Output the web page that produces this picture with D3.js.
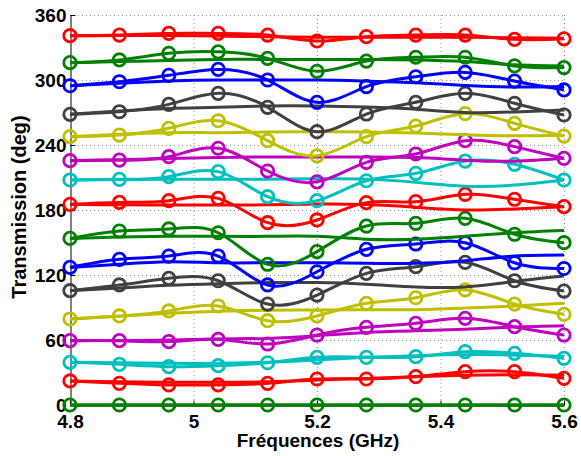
<!DOCTYPE html>
<html><head><meta charset="utf-8">
<script src="https://cdn.jsdelivr.net/npm/d3@7"></script>
<style>body{margin:0;background:#fff}svg{display:block}text{font-family:"Liberation Sans",Arial,sans-serif;font-weight:bold}</style>
</head><body>
<svg id="c" width="581" height="456"></svg>
<script>
const freqs = [4.8,4.88,4.96,5.04,5.12,5.2,5.28,5.36,5.44,5.52,5.6];
const xTicks = [4.8,5,5.2,5.4,5.6];
const xTickLabels = ["4.8","5","5.2","5.4","5.6"];
const yTicks = [0,60,120,180,240,300,360];
const yTickLabels = ["0","60","120","180","240","300","360"];
const seriesColors = ["#008000","#ff0000","#00bfbf","#bf00bf","#bfbf00","#404040","#0000ff",
                      "#008000","#ff0000","#00bfbf","#bf00bf","#bfbf00","#404040","#0000ff",
                      "#008000","#ff0000"];
// measured curves (with circle markers)
const measured = [
 [0,0,0,0,0,0,0,0,0,0,0],
 [22.2,20,18.5,18.5,20,24,24,26.2,30.8,30.8,24.6],
 [39.4,37.5,35.4,36.3,39,44,44,44.6,49.2,47.7,43.1],
 [59.4,59.4,58.5,60.6,56.3,64.6,71.7,75.4,80,72.3,64.6],
 [79.4,82.2,86.8,91.4,77.8,82.2,93.9,99,106.2,93.2,83.7],
 [105.5,110.8,116.9,114.7,93.2,101.5,121.5,127.7,131.7,114.7,105.2],
 [127,134.5,137.5,137.5,110.8,123,143.7,148.6,149.8,131.3,126],
 [153.8,160.6,162.5,159,129.9,141.6,165.2,167.7,172.3,157.6,149.8],
 [185.2,187,188.6,190.7,168.3,170.8,186.8,187.7,194.5,189.9,183.1],
 [207.7,208.3,210.8,215.4,192.3,188.6,207,213.8,225.2,222.2,207.7],
 [225.5,226,229.2,237,216,206,224,231.7,244,238.5,227.7],
 [247.7,249.2,255.4,262.4,244,230,247.7,257.5,269,260,248.3],
 [268.3,270.7,277.5,287.7,274.8,252.3,268.6,279.4,287.7,278.5,267.7],
 [294.7,298.4,304.3,309.8,300,279.4,293.8,303,307,299,290.8],
 [316,318.5,324.6,326,320,308,317.5,321,321,313,311.5],
 [340.9,341.5,343,343,341.5,336,340,341.5,341.5,337.5,338]
];
// simulated curves (no markers)
const simulated = [
 [0,0,0,0,0,0,0,0,0,0,0],
 [22.2,21.5,21,21,21.5,23,24.5,26,27.5,28,27.5],
 [39.4,39,38.5,38.5,39.5,41.5,44,45.5,46.5,46,45],
 [59.4,59.5,60,61,61.5,64,67,68.5,70,72,73.2],
 [79.4,82,84.6,86.5,87.5,87.7,88,88,89.5,91.4,93.9],
 [105.5,108,110.5,112,113,113,111.5,109,109,114,119],
 [127,130,132.3,131.3,131.3,131.3,130.8,130.8,133.2,137.5,138.5],
 [153.8,155,155.7,155.7,155.7,155.7,153,153,155.7,159,161],
 [185.2,184.8,184.6,184.6,184.8,185.5,185,182.5,180,181,183.1],
 [207.7,208,208.3,208.5,208.5,208.8,208.5,205.5,202,203,207.7],
 [225.5,226.5,227.5,228.5,229,229,229,228.5,226,225,227.7],
 [247.7,250,251.4,251.4,252,252.3,252,251,249.5,248.5,249],
 [268.3,271.5,273.8,274.8,276,276,275,273,270,270.5,272.3],
 [294.7,297,299,300,300,300,299,297.5,295,293.5,294],
 [316,317,318,319,319,319,319,318.5,317,314,313],
 [340.9,341,341,340.5,340,339.5,339.5,339.5,339.5,339,338.5]
];
const xLabel = "Fréquences (GHz)";
const yLabel = "Transmission (deg)";

const svg = d3.select("#c");
const L=70, R=564, T=15, B=405;
const x = d3.scaleLinear().domain([4.8,5.6]).range([L,R]);
const y = d3.scaleLinear().domain([0,360]).range([B,T]);

// grid
const grid = svg.append("g").attr("stroke","#8c8c8c").attr("stroke-width",1).attr("stroke-dasharray","1,3");
xTicks.filter(v=>v>4.8).forEach(v=>grid.append("line").attr("x1",x(v)+0.5).attr("x2",x(v)+0.5).attr("y1",T).attr("y2",B));
yTicks.filter(v=>v>0).forEach(v=>grid.append("line").attr("x1",L).attr("x2",R).attr("y1",y(v)+0.5).attr("y2",y(v)+0.5));

// axes
const xAxis = d3.axisBottom(x).tickValues(xTicks).tickFormat((d,i)=>xTickLabels[i]).tickSizeInner(-5).tickSizeOuter(0).tickPadding(9);
const yAxis = d3.axisLeft(y).tickValues(yTicks).tickFormat((d,i)=>yTickLabels[i]).tickSizeInner(-5).tickSizeOuter(0).tickPadding(4);
const gx = svg.append("g").attr("transform",`translate(0,${B+0.5})`).call(xAxis);
const gy = svg.append("g").attr("transform",`translate(${L+0.5},0)`).call(yAxis);
[gx,gy].forEach(g=>{
  g.select(".domain").attr("stroke","#000");
  g.selectAll(".tick line").attr("stroke","#000");
  g.selectAll("text").attr("fill","#000").style("font-size","19px").style("font-weight","bold").style("font-family",'"Liberation Sans",Arial,sans-serif');
});

// lines
const line = d3.line().x((d,i)=>x(freqs[i])).y(d=>y(d)).curve(d3.curveNatural);
const plot = svg.append("g");
for(let k=0;k<measured.length;k++){
  const c = seriesColors[k];
  plot.append("path").attr("d",line(simulated[k])).attr("fill","none").attr("stroke",c).attr("stroke-width",3);
  plot.append("path").attr("d",line(measured[k])).attr("fill","none").attr("stroke",c).attr("stroke-width",3);
  plot.append("g").selectAll("circle").data(measured[k]).join("circle")
    .attr("cx",(d,i)=>x(freqs[i])).attr("cy",d=>y(d)).attr("r",6.2)
    .attr("fill","none").attr("stroke",c).attr("stroke-width",2.8);
}

// labels
svg.append("text").attr("x",318).attr("y",447).attr("text-anchor","middle").style("font-size","19px").text(xLabel);
svg.append("text").attr("transform","translate(26,207) rotate(-90)").attr("text-anchor","middle").style("font-size","20px").text(yLabel);
</script>
</body></html>
